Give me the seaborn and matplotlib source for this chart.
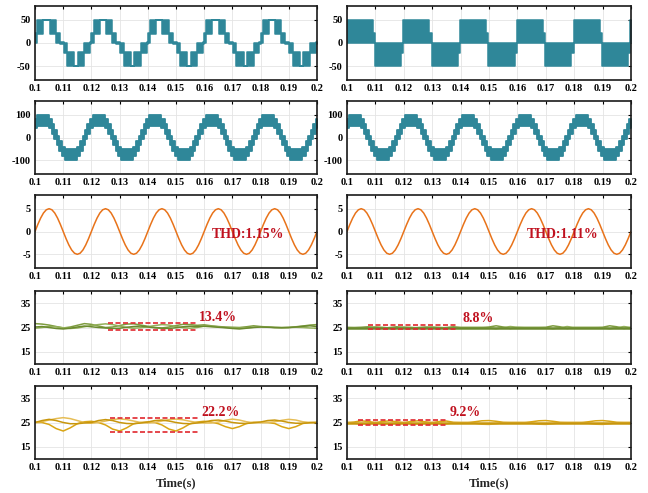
import numpy as np
import pandas as pd
import matplotlib
matplotlib.use("Agg")
import matplotlib.pyplot as plt
import seaborn as sns

# ---------------- data ----------------
x_ticks = [0.1, 0.11, 0.12, 0.13, 0.14, 0.15, 0.16, 0.17, 0.18, 0.19, 0.2]
x_labels = ["0.1", "0.11", "0.12", "0.13", "0.14", "0.15", "0.16", "0.17", "0.18", "0.19", "0.2"]
n_periods = 5
period_ms = 20.0

# Row 1 left: PWM phase voltage, one period (ms from 0.1 s): start, end, low, high
r1l_start = [0.0, 0.8, 2.9, 5.2, 7.4, 8.8, 10.2, 11.4, 14.0, 15.2, 17.5, 19.6]
r1l_end = [0.8, 2.9, 5.2, 7.4, 8.8, 10.2, 11.4, 14.0, 15.2, 17.5, 19.6, 20.0]
r1l_low = [0, 20, 50, 20, 0, -3, -22, -50, -50, -50, -22, -3]
r1l_high = [22, 50, 50, 50, 22, 3, 0, -20, -50, -20, 0, 3]

# Row 1 right
r1r_start = [0.0, 9.0, 9.8, 19.0, 19.8]
r1r_end = [9.0, 9.8, 19.0, 19.8, 20.0]
r1r_low = [0, 0, -50, -22, 0]
r1r_high = [50, 22, 0, 0, 50]

# Row 2: stepped line voltage, one period
r2_start = [0.0, 0.59, 4.81, 5.93, 6.85, 7.70, 8.55, 9.47, 10.59, 14.81, 15.93, 16.85, 17.70, 18.55, 19.47]
r2_end = [0.59, 4.81, 5.93, 6.85, 7.70, 8.55, 9.47, 10.59, 14.81, 15.93, 16.85, 17.70, 18.55, 19.47, 20.0]
r2l_low = [40, 52, 40, 16, -8, -32, -57, -80, -100, -80, -57, -32, -8, 16, 40]
r2l_high = [80, 100, 80, 57, 32, 8, -16, -40, -52, -40, -16, 8, 32, 57, 80]
r2r_low = [40, 52, 40, 16, -8, -32, -57, -80, -100, -80, -57, -32, -8, 16, 40]
r2r_high = [80, 100, 80, 57, 32, 8, -16, -40, -52, -40, -16, 8, 32, 57, 80]

# Row 3: output current, one period sampled every 1 ms
r3_t_ms = list(range(0, 21))
r3_vals = [0.0, 1.55, 2.94, 4.05, 4.76, 5.0, 4.76, 4.05, 2.94, 1.55, 0.0,
           -1.55, -2.94, -4.05, -4.76, -5.0, -4.76, -4.05, -2.94, -1.55, 0.0]

# Rows 4-5: capacitor voltages sampled every 2.5 ms from 0.1 s to 0.2 s
t_cap = [0.1 + 0.0025 * k for k in range(41)]
r4l_a = [26.6, 26.4, 26.0, 25.4, 24.8, 25.2, 25.9, 26.6, 26.3, 25.6, 25.0, 25.2, 25.8, 26.4,
         26.5, 26.0, 25.5, 25.0, 24.8, 25.2, 25.8, 26.3, 26.2, 25.9, 26.1, 25.7, 25.4, 25.2,
         25.1, 25.0, 25.3, 25.7, 25.4, 25.2, 25.0, 25.0, 25.0, 25.3, 25.6, 26.0, 26.2]
r4l_b = [24.7, 25.0, 25.4, 25.3, 24.9, 24.6, 24.8, 25.3, 25.8, 26.2, 26.5, 26.2, 25.6, 25.0,
         24.7, 24.9, 25.3, 25.8, 26.2, 26.0, 25.4, 24.9, 24.7, 25.0, 25.6, 25.5, 25.3, 25.0,
         24.8, 24.7, 24.9, 25.1, 25.3, 25.2, 25.0, 24.9, 25.0, 25.1, 25.0, 24.8, 24.7]
r4l_c = [25.2, 25.4, 25.0, 24.6, 24.4, 24.7, 25.2, 25.6, 25.3, 25.0, 24.8, 24.6, 24.7, 25.1,
         25.4, 25.6, 25.2, 24.9, 24.7, 24.6, 24.9, 25.3, 25.5, 25.4, 25.5, 25.3, 25.1, 24.9,
         24.6, 24.4, 24.7, 25.0, 25.2, 25.1, 25.0, 24.9, 25.0, 25.2, 25.5, 25.7, 25.4]
r4r_a = [25.0, 25.0, 25.1, 25.3, 25.0, 24.7, 25.0, 25.3, 25.0, 24.8, 25.0, 25.2, 25.1, 24.8,
         25.0, 25.3, 25.0, 25.0, 25.0, 25.0, 25.2, 25.7, 25.2, 24.6, 25.0, 25.0, 25.0, 25.0,
         25.1, 25.7, 25.3, 24.6, 25.0, 25.0, 25.0, 25.0, 25.1, 25.7, 25.3, 24.6, 25.0]
r4r_b = [25.0, 24.9, 24.8, 25.0, 25.3, 25.1, 24.8, 24.9, 25.2, 25.1, 24.8, 24.9, 25.2, 25.1,
         24.8, 25.0, 25.0, 25.0, 25.0, 25.0, 24.8, 24.5, 25.0, 25.4, 25.1, 25.0, 25.0, 25.0,
         24.9, 24.5, 24.9, 25.4, 25.0, 25.0, 25.0, 25.0, 24.9, 24.5, 24.9, 25.4, 25.0]
r4r_c = [25.0] * 41
r5l_a = [25.0, 25.0, 24.2, 22.5, 21.5, 22.8, 24.5, 25.3, 25.5, 25.0, 24.0, 22.3, 21.5, 22.8,
         24.5, 25.0, 25.2, 25.0, 24.0, 22.3, 21.5, 22.8, 24.5, 25.2, 25.5, 25.2, 24.5, 23.3,
         22.5, 23.3, 24.6, 25.1, 25.0, 25.0, 24.6, 23.3, 22.5, 23.3, 24.6, 25.0, 25.0]
r5l_b = [25.0, 25.4, 26.0, 26.6, 27.0, 26.6, 25.8, 25.0, 24.7, 25.0, 25.6, 26.2, 26.5, 26.2,
         25.6, 25.0, 24.8, 25.0, 25.6, 26.2, 26.4, 26.1, 25.5, 25.0, 24.8, 24.8, 25.2, 25.9,
         26.4, 26.0, 25.3, 24.9, 25.0, 25.0, 25.3, 25.9, 26.3, 26.0, 25.3, 25.0, 25.0]
r5l_c = [25.0, 25.8, 26.3, 25.8, 25.0, 24.5, 24.5, 24.8, 25.0, 25.8, 26.2, 25.8, 25.0, 24.6,
         24.5, 24.8, 25.2, 25.8, 26.0, 25.6, 25.0, 24.6, 24.5, 24.8, 25.2, 25.8, 26.0, 25.6,
         25.0, 24.7, 24.6, 24.9, 25.2, 25.8, 26.0, 25.6, 25.0, 24.7, 24.7, 24.9, 25.0]
r5r_a = [25.0, 25.2, 25.7, 25.4, 25.0, 25.4, 25.7, 25.3, 25.0, 25.4, 25.7, 25.3, 25.0, 25.4,
         25.6, 25.1, 25.0, 25.0, 25.3, 25.7, 25.8, 25.5, 25.1, 25.0, 25.0, 25.0, 25.3, 25.7,
         25.8, 25.5, 25.1, 25.0, 25.0, 25.0, 25.3, 25.7, 25.8, 25.5, 25.1, 25.0, 25.0]
r5r_b = [25.0, 24.8, 24.3, 24.6, 25.0, 24.6, 24.3, 24.7, 25.0, 24.6, 24.3, 24.7, 25.0, 24.6,
         24.4, 24.9, 25.0, 25.0, 24.7, 24.3, 24.2, 24.5, 24.9, 25.0, 25.0, 25.0, 24.7, 24.3,
         24.2, 24.5, 24.9, 25.0, 25.0, 25.0, 24.7, 24.3, 24.2, 24.5, 24.9, 25.0, 25.0]
r5r_c = [25.0] * 41

thd_labels = ["THD:1.15%", "THD:1.11%"]
ripple_labels = [["13.4%", "8.8%"], ["22.2%", "9.2%"]]
# dashed ripple bounds: (x0, x1, upper, lower)
ripple_bounds = [[(0.1259, 0.1575, 27.0, 23.8), (0.1074, 0.1390, 26.1, 24.3)],
                 [(0.1266, 0.1580, 26.8, 21.3), (0.1039, 0.1352, 25.9, 23.8)]]
ripple_text_pos = [[(0.1582, 29.3), (0.1405, 28.8)], [(0.1591, 29.0), (0.1363, 29.2)]]
thd_text_pos = [(0.1627, -0.7), (0.1634, -0.7)]

# ---------------- style ----------------
sns.set_theme(style="white")
plt.rcParams["font.family"] = ["Liberation Serif", "DejaVu Serif"]
plt.rcParams["font.weight"] = "bold"
plt.rcParams["axes.labelweight"] = "bold"

teal = "#2F8799"
orange = "#E8731A"
greens = ["#7E9C3F", "#94B05A", "#6A8A2E"]
golds = ["#D9A514", "#E6BD55", "#C8960C"]
red_text = "#C0111F"
red_dash = "#E0282E"

fig = plt.figure(figsize=(6.48, 4.93), dpi=100)
W, H = 648.0, 493.0
cols = [(35, 317), (347, 631)]
rows = [(6, 80), (101, 174), (195, 268), (291, 364), (386, 459)]
axes = [[None, None] for _ in rows]
for i, (top, bot) in enumerate(rows):
    for j, (l, r) in enumerate(cols):
        axes[i][j] = fig.add_axes([l / W, 1 - bot / H, (r - l) / W, (bot - top) / H])


def band_arrays(starts, ends, lows, highs):
    xs, lo, hi = [], [], []
    for p in range(n_periods):
        off = p * period_ms
        for s, e, a, b in zip(starts, ends, lows, highs):
            xs += [0.1 + (s + off) / 1000.0, 0.1 + (e + off) / 1000.0]
            lo += [a, a]
            hi += [b, b]
    return np.array(xs), np.array(lo, float), np.array(hi, float)


def draw_band(ax, starts, ends, lows, highs, color, lw=1.0):
    xs, lo, hi = band_arrays(starts, ends, lows, highs)
    ax.fill_between(xs, lo, hi, color=color, edgecolor=color, linewidth=lw)


def draw_line(ax, x, y, color, lw):
    df = pd.DataFrame({"t": x, "v": y})
    sns.lineplot(data=df, x="t", y="v", ax=ax, color=color, linewidth=lw,
                 estimator=None, sort=False, legend=False)


# Row 1
draw_band(axes[0][0], r1l_start, r1l_end, r1l_low, r1l_high, teal, 1.1)
draw_band(axes[0][1], r1r_start, r1r_end, r1r_low, r1r_high, teal, 1.1)
# Row 2
draw_band(axes[1][0], r2_start, r2_end, r2l_low, r2l_high, teal, 1.3)
draw_band(axes[1][1], r2_start, r2_end, r2r_low, r2r_high, teal, 1.3)
# Row 3
t3, v3 = [], []
for p in range(n_periods):
    for k, (tm, v) in enumerate(zip(r3_t_ms, r3_vals)):
        if p > 0 and k == 0:
            continue
        t3.append(0.1 + (tm + p * period_ms) / 1000.0)
        v3.append(v)
for j in range(2):
    draw_line(axes[2][j], t3, v3, orange, 1.1)
    axes[2][j].text(thd_text_pos[j][0], thd_text_pos[j][1], thd_labels[j], color=red_text,
                    fontsize=10, fontweight="bold", ha="left", va="center")
# Row 4
for y, c in zip([r4l_a, r4l_b, r4l_c], greens):
    draw_line(axes[3][0], t_cap, y, c, 1.1)
for y, c, lw in zip([r4r_a, r4r_b, r4r_c], greens, [1.1, 1.1, 1.8]):
    draw_line(axes[3][1], t_cap, y, c, lw)
# Row 5
for y, c in zip([r5l_a, r5l_b, r5l_c], golds):
    draw_line(axes[4][0], t_cap, y, c, 1.1)
for y, c, lw in zip([r5r_a, r5r_b, r5r_c], golds, [1.1, 1.1, 1.8]):
    draw_line(axes[4][1], t_cap, y, c, lw)

for i in (3, 4):
    for j in range(2):
        ax = axes[i][j]
        x0, x1, up, lo = ripple_bounds[i - 3][j]
        for yv in (up, lo):
            ax.plot([x0, x1], [yv, yv], color=red_dash, lw=1.2, linestyle=(0, (3, 1.5)))
        tx, ty = ripple_text_pos[i - 3][j]
        ax.text(tx, ty, ripple_labels[i - 3][j], color=red_text, fontsize=10,
                fontweight="bold", ha="left", va="center")

ylims = [(-80, 80), (-160, 160), (-8, 8), (10, 40), (10, 40)]
yticks = [[-50, 0, 50], [-100, 0, 100], [-5, 0, 5], [15, 25, 35], [15, 25, 35]]
for i in range(5):
    for j in range(2):
        ax = axes[i][j]
        ax.set_xlim(0.1, 0.2)
        ax.set_ylim(*ylims[i])
        ax.set_xticks(x_ticks)
        ax.set_xticklabels(x_labels)
        ax.set_yticks(yticks[i])
        ax.set_yticklabels([str(v) for v in yticks[i]])
        ax.grid(True, color="#E4E4E4", linewidth=0.6)
        ax.set_axisbelow(True)
        ax.tick_params(axis="both", direction="in", length=2.5, width=0.8, labelsize=7.5,
                       pad=3, top=True, right=True, colors="black")
        for lab in ax.get_xticklabels() + ax.get_yticklabels():
            lab.set_fontweight("bold")
        for s in ax.spines.values():
            s.set_color("#1A1A1A")
            s.set_linewidth(1.2)
            s.set_visible(True)
        ax.set_ylabel("")
        if i == 4:
            ax.set_xlabel("Time(s)", fontsize=9, fontweight="bold", labelpad=4)
        else:
            ax.set_xlabel("")

fig.savefig("out.png", dpi=100)
